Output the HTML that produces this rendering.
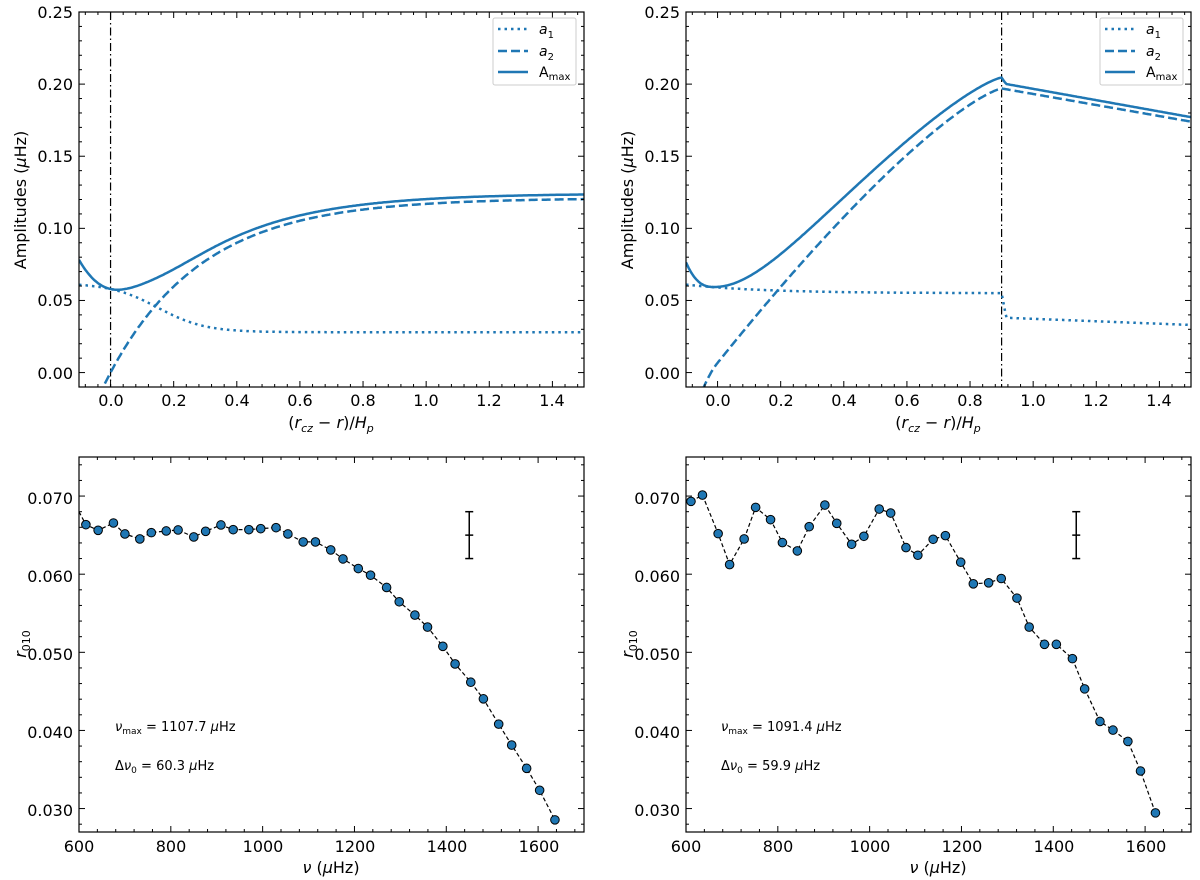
<!DOCTYPE html>
<html><head><meta charset="utf-8"><style>
body{margin:0;background:#fff;}
svg{display:block;font-family:"DejaVu Sans","Liberation Sans",sans-serif;}
.tl{font-size:16px;fill:#000;}
.lab{font-size:16px;fill:#000;}
</style></head><body>
<svg id="s" width="1200" height="880" viewBox="0 0 1200 880" xmlns="http://www.w3.org/2000/svg">
<rect width="1200" height="880" fill="#fff"/>
<g id="g"></g>
<g class="tl" text-anchor="end">
<text x="73" y="18">0.25</text><text x="73" y="90">0.20</text><text x="73" y="162">0.15</text><text x="73" y="234">0.10</text><text x="73" y="306">0.05</text><text x="73" y="379">0.00</text>
<text x="680" y="18">0.25</text><text x="680" y="90">0.20</text><text x="680" y="162">0.15</text><text x="680" y="234">0.10</text><text x="680" y="306">0.05</text><text x="680" y="379">0.00</text>
<text x="73" y="504">0.070</text><text x="73" y="582">0.060</text><text x="73" y="660">0.050</text><text x="73" y="738">0.040</text><text x="73" y="816">0.030</text>
<text x="680" y="504">0.070</text><text x="680" y="582">0.060</text><text x="680" y="660">0.050</text><text x="680" y="738">0.040</text><text x="680" y="816">0.030</text>
</g>
<g class="tl" text-anchor="middle">
<text x="111" y="406">0.0</text><text x="174" y="406">0.2</text><text x="237" y="406">0.4</text><text x="300" y="406">0.6</text><text x="363" y="406">0.8</text><text x="426" y="406">1.0</text><text x="489" y="406">1.2</text><text x="552" y="406">1.4</text>
<text x="718" y="406">0.0</text><text x="781" y="406">0.2</text><text x="844" y="406">0.4</text><text x="907" y="406">0.6</text><text x="970" y="406">0.8</text><text x="1033" y="406">1.0</text><text x="1096" y="406">1.2</text><text x="1159" y="406">1.4</text>
<text x="79" y="852">600</text><text x="171" y="852">800</text><text x="263" y="852">1000</text><text x="355" y="852">1200</text><text x="447" y="852">1400</text><text x="539" y="852">1600</text>
<text x="686" y="852">600</text><text x="778" y="852">800</text><text x="870" y="852">1000</text><text x="962" y="852">1200</text><text x="1054" y="852">1400</text><text x="1146" y="852">1600</text>
</g>
<g class="lab" text-anchor="middle">
<text x="331" y="428">(<tspan font-style="italic">r</tspan><tspan font-style="italic" font-size="11" dy="4">cz</tspan><tspan dy="-4"> − </tspan><tspan font-style="italic">r</tspan>)/<tspan font-style="italic">H</tspan><tspan font-style="italic" font-size="11" dy="4">p</tspan></text>
<text x="938" y="428">(<tspan font-style="italic">r</tspan><tspan font-style="italic" font-size="11" dy="4">cz</tspan><tspan dy="-4"> − </tspan><tspan font-style="italic">r</tspan>)/<tspan font-style="italic">H</tspan><tspan font-style="italic" font-size="11" dy="4">p</tspan></text>
<text x="331" y="873"><tspan font-style="italic">ν</tspan> (<tspan font-style="italic">μ</tspan>Hz)</text>
<text x="938" y="873"><tspan font-style="italic">ν</tspan> (<tspan font-style="italic">μ</tspan>Hz)</text>
<text transform="translate(26,200) rotate(-90)">Amplitudes (<tspan font-style="italic">μ</tspan>Hz)</text>
<text transform="translate(633,200) rotate(-90)">Amplitudes (<tspan font-style="italic">μ</tspan>Hz)</text>
<text transform="translate(26,644) rotate(-90)"><tspan font-style="italic">r</tspan><tspan font-size="11" dy="4">010</tspan></text>
<text transform="translate(633,644) rotate(-90)"><tspan font-style="italic">r</tspan><tspan font-size="11" dy="4">010</tspan></text>
</g>
<g font-size="13" fill="#000">
<text x="115" y="731"><tspan font-style="italic">ν</tspan><tspan font-size="9" dy="3">max</tspan><tspan dy="-3"> = 1107.7 </tspan><tspan font-style="italic">μ</tspan>Hz</text>
<text x="115" y="770">Δ<tspan font-style="italic">ν</tspan><tspan font-size="9" dy="3">0</tspan><tspan dy="-3"> = 60.3 </tspan><tspan font-style="italic">μ</tspan>Hz</text>
<text x="721" y="731"><tspan font-style="italic">ν</tspan><tspan font-size="9" dy="3">max</tspan><tspan dy="-3"> = 1091.4 </tspan><tspan font-style="italic">μ</tspan>Hz</text>
<text x="721" y="770">Δ<tspan font-style="italic">ν</tspan><tspan font-size="9" dy="3">0</tspan><tspan dy="-3"> = 59.9 </tspan><tspan font-style="italic">μ</tspan>Hz</text>
</g>
<g>
<rect x="493" y="18" width="83" height="67" fill="#fff" stroke="#ccc" stroke-width="1" rx="2"/>
<line x1="498" y1="29" x2="528" y2="29" stroke="#1f77b4" stroke-width="2.5" stroke-dasharray="2.5,4"/>
<line x1="498" y1="51" x2="528" y2="51" stroke="#1f77b4" stroke-width="2.5" stroke-dasharray="9,4"/>
<line x1="498" y1="72" x2="528" y2="72" stroke="#1f77b4" stroke-width="2.5"/>
<text x="539" y="34" font-size="14" font-style="italic">a<tspan font-size="10" dy="4" font-style="normal">1</tspan></text>
<text x="539" y="56" font-size="14" font-style="italic">a<tspan font-size="10" dy="4" font-style="normal">2</tspan></text>
<text x="539" y="77" font-size="14">A<tspan font-size="10" dy="3">max</tspan></text>
</g>
<g transform="translate(607,0)">
<rect x="493" y="18" width="83" height="67" fill="#fff" stroke="#ccc" stroke-width="1" rx="2"/>
<line x1="498" y1="29" x2="528" y2="29" stroke="#1f77b4" stroke-width="2.5" stroke-dasharray="2.5,4"/>
<line x1="498" y1="51" x2="528" y2="51" stroke="#1f77b4" stroke-width="2.5" stroke-dasharray="9,4"/>
<line x1="498" y1="72" x2="528" y2="72" stroke="#1f77b4" stroke-width="2.5"/>
<text x="539" y="34" font-size="14" font-style="italic">a<tspan font-size="10" dy="4" font-style="normal">1</tspan></text>
<text x="539" y="56" font-size="14" font-style="italic">a<tspan font-size="10" dy="4" font-style="normal">2</tspan></text>
<text x="539" y="77" font-size="14">A<tspan font-size="10" dy="3">max</tspan></text>
</g>
</svg>
<script>
var NS="http://www.w3.org/2000/svg",G=document.getElementById("g");
function el(t,a){var e=document.createElementNS(NS,t);for(var k in a)e.setAttribute(k,a[k]);G.appendChild(e);return e;}
function clipRect(id,x,y,w,h){var d=document.createElementNS(NS,"clipPath");d.id=id;var r=document.createElementNS(NS,"rect");r.setAttribute("x",x);r.setAttribute("y",y);r.setAttribute("width",w);r.setAttribute("height",h);d.appendChild(r);G.appendChild(d);}
function axes(x0,y0,x1,y1,xs,ys){
 xs.forEach(function(t){if(t[0]<x0-0.5||t[0]>x1+0.5)return;var L=t[1]?6:3;el("line",{x1:t[0],x2:t[0],y1:y1,y2:y1-L,stroke:"#000","stroke-width":1});el("line",{x1:t[0],x2:t[0],y1:y0,y2:y0+L,stroke:"#000","stroke-width":1});});
 ys.forEach(function(t){if(t[0]<y0-0.5||t[0]>y1+0.5)return;var L=t[1]?6:3;el("line",{y1:t[0],y2:t[0],x1:x0,x2:x0+L,stroke:"#000","stroke-width":1});el("line",{y1:t[0],y2:t[0],x1:x1,x2:x1-L,stroke:"#000","stroke-width":1});});
 el("rect",{x:x0,y:y0,width:x1-x0,height:y1-y0,fill:"none",stroke:"#000","stroke-width":1.2});
}
function path(pts,attrs,clip){var d="";pts.forEach(function(p,i){d+=(i?"L":"M")+p[0].toFixed(1)+","+p[1].toFixed(1);});attrs.d=d;attrs.fill="none";if(clip)attrs["clip-path"]="url(#"+clip+")";return el("path",attrs);}
[0,607].forEach(function(off,pi){
 var X=function(x){return off+79+(x+0.1)*315.6;},Y=function(v){return 12+(0.25-v)*1442.3;};
 clipRect("ct"+pi,off+79,12,505,375);
 var xs=[],ys=[];
 for(var i=-2;i<=37;i++){var x=i*0.04;xs.push([X(x),i%5==0]);}
 for(var j=-1;j<=25;j++){ys.push([Y(j*0.01),j%5==0]);}
 var A1=[],A2=[],AM=[];
 for(var x=-0.1;x<=1.5001;x+=0.004){
  var a1,a2;
  if(pi==0){a1=0.028+0.034/(1+Math.exp((x-0.15)/0.075));a2=0.121*(1-Math.exp(-3.4*x));}
  else{
   if(x<=0.9){a1=0.055+0.006*Math.exp(-(x+0.1)/0.25);var u=0.9-x;a2=0.197-0.218*Math.pow(u,1.29)-(x<0?2.5*x*x:0);}
   else{var t=(x-0.9)/0.6;a1=(x<0.915?0.055-(x-0.9)/0.015*0.017:0.038-0.005*(x-0.915)/0.585);a2=0.197-0.023*t;}
  }
  A1.push([X(x),Y(a1)]);A2.push([X(x),Y(a2)]);AM.push([X(x),Y(Math.sqrt(a1*a1+a2*a2))]);
 }
 var vx=pi==0?0:0.9;
 el("line",{x1:X(vx),x2:X(vx),y1:12,y2:387,stroke:"#000","stroke-width":1.2,"stroke-dasharray":"8,3,1.5,3"});
 path(A1,{stroke:"#1f77b4","stroke-width":2.5,"stroke-dasharray":"2.5,4"},"ct"+pi);
 path(A2,{stroke:"#1f77b4","stroke-width":2.5,"stroke-dasharray":"9,4"},"ct"+pi);
 path(AM,{stroke:"#1f77b4","stroke-width":2.5},"ct"+pi);
 axes(off+79,12,off+584,387,xs,ys);
});
var L=[[225,253],[257,270],[297,248],[327,281],[366,296],[396,277],[435,272],[466,269],[507,290],[538,273],[578,254],[610,268],[651,268],[682,265],[722,262],[753,281],[793,305],[825,305],[865,329],[897,356],[937,385],[969,405],[1011,442],[1044,485],[1085,525],[1118,561],[1158,619],[1190,672],[1231,727],[1264,777],[1304,853],[1338,916],[1377,986],[1411,1052],[1451,1141]];
var R=[[235,183],[265,164],[306,280],[336,373],[374,296],[404,201],[443,238],[474,307],[513,332],[544,259],[585,194],[616,249],[655,312],[687,288],[727,206],[757,218],[797,322],[828,345],[868,297],[900,286],[940,366],[973,431],[1013,428],[1046,415],[1087,474],[1119,561],[1159,613],[1190,613],[1232,656],[1264,747],[1304,845],[1338,871],[1377,905],[1410,994],[1449,1120]];
[[0,L,207],[607,R,222]].forEach(function(c,pi){
 var off=c[0];
 var X=function(f){return off+79+(f-600)*0.4591;},Y=function(r){return 457+(0.075-r)*7812.5;};
 clipRect("cb"+pi,off+79,457,505,375);
 var xs=[],ys=[];
 for(var f=600;f<=1700;f+=40){xs.push([X(f),(f-600)%200==0]);}
 for(var k=0;k<=23;k++){var m=28+k*2;ys.push([Y(m/1000),m%10==0]);}
 var pts=c[1].map(function(p){return [X(600+(p[0]-c[2])/1.2),Y(0.070-(p[1]-167)/23500)];});
 if(pi==0)pts.unshift([X(600),Y(0.068)]);
 path(pts,{stroke:"#000","stroke-width":1.2,"stroke-dasharray":"4,2.5"},"cb"+pi);
 pts.forEach(function(p,i){if(pi==0&&i==0)return;el("circle",{cx:p[0],cy:p[1],r:4.3,fill:"#1f77b4",stroke:"#000","stroke-width":1});});
 var ex=X(1450);
 el("line",{x1:ex,x2:ex,y1:Y(0.068),y2:Y(0.062),stroke:"#000","stroke-width":1.5});
 el("line",{x1:ex-4,x2:ex+4,y1:Y(0.068),y2:Y(0.068),stroke:"#000","stroke-width":1.5});
 el("line",{x1:ex-4,x2:ex+4,y1:Y(0.062),y2:Y(0.062),stroke:"#000","stroke-width":1.5});
 el("line",{x1:ex-4,x2:ex+4,y1:Y(0.065),y2:Y(0.065),stroke:"#000","stroke-width":1.5});
 axes(off+79,457,off+584,832,xs,ys);
});
</script>
</body></html>
